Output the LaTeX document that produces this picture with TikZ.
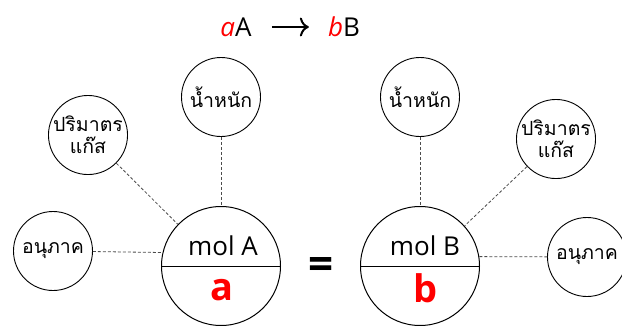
\documentclass[tikz,border=0pt]{standalone}
\usepackage{fontspec}
\setmainfont{Open Sans}
\newfontfamily\thaifont[Script=Thai]{Loma}
\usetikzlibrary{arrows.meta}

\begin{document}
\begin{tikzpicture}[x=1pt,y=-1pt,>={To[length=9pt,width=19pt]},
 mol/.style={draw,circle,minimum size=119pt,inner sep=0pt,line width=1pt},
 prop/.style={draw,circle,minimum size=79pt,inner sep=0pt,align=center,line width=0.9pt,
   font=\thaifont\fontsize{19.5}{22}\selectfont},
 link/.style={densely dashed,line width=0.8pt,black!70},
 big/.style={text=red,font=\fontsize{38}{38}\selectfont\bfseries},
 head/.style={font=\fontsize{26}{26}\selectfont}]
\useasboundingbox (0,0) rectangle (622,325);
% reaction
\node[head,inner sep=0pt] (rA) at (236,27) {\textcolor{red}{\itshape a}A};
\node[head,inner sep=0pt] (rB) at (344,27) {\textcolor{red}{\itshape b}B};
\draw[->,line width=2pt,shorten <=20pt,shorten >=19pt] (rA) -- (rB);
% mole circles
\node[mol] (molA) at (221,266) {};
\node[mol] (molB) at (420,266) {};
\draw[line width=1pt] (molA.west) -- (molA.east);
\draw[line width=1pt] (molB.west) -- (molB.east);
\node[head] (molAtop) at (223,246) {mol A};
\node[big] (molAbot) at (222,290) {a};
\node[head] (molBtop) at (425,246) {mol B};
\node[big] (molBbot) at (426,288) {b};
\node[font=\fontsize{44}{44}\selectfont\bfseries] (eq) at (321,268) {=};
% properties
\node[prop] (wtA) at (221,97) {น้ำหนัก};
\node[prop] (volA) at (88,135) {ปริมาตร\\แก๊ส};
\node[prop] (parA) at (53,251) {อนุภาค};
\node[prop] (wtB) at (420,97) {น้ำหนัก};
\node[prop] (volB) at (556,139) {ปริมาตร\\แก๊ส};
\node[prop] (parB) at (587,257) {อนุภาค};
\draw[link] (wtA) -- (molA);
\draw[link] (volA) -- (molA.136);
\draw[link] (parA) -- (molA.167);
\draw[link] (wtB) -- (molB);
\draw[link] (volB) -- (molB.42);
\draw[link] (molB.9) -- (parB);
\end{tikzpicture}
\end{document}
